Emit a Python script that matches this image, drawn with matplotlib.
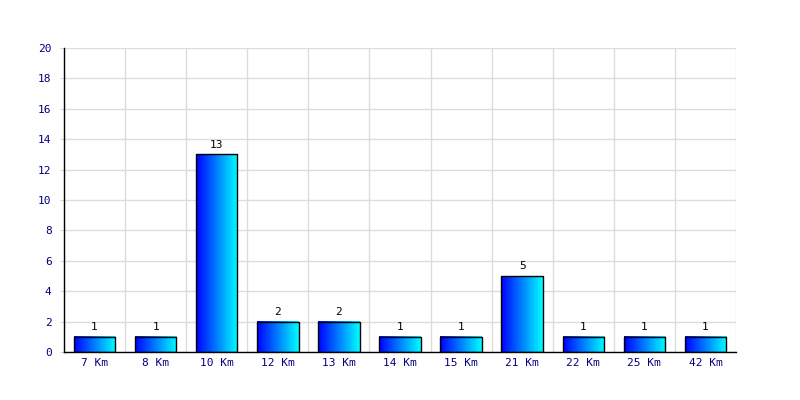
import numpy as np
import matplotlib
matplotlib.use("Agg")
from matplotlib import pyplot as plt

# data  -----------------------------------------------------------------
categories = ['7 Km', '8 Km', '10 Km', '12 Km', '13 Km', '14 Km', '15 Km',
              '21 Km', '22 Km', '25 Km', '42 Km']
counts = [1, 1, 13, 2, 2, 1, 1, 5, 1, 1, 1]

# figure  ---------------------------------------------------------------
fig = plt.figure(figsize=(8, 4), dpi=100)
ax = fig.add_axes([0.08, 0.12, 0.84, 0.76])

x = np.arange(len(categories))
bars = ax.bar(x, counts, width=0.68, color='none', edgecolor='black',
              linewidth=1.0, zorder=3)

# blue -> cyan horizontal gradient inside every bar
grad = np.linspace(0, 1, 256).reshape(1, -1)
cmap = matplotlib.colors.LinearSegmentedColormap.from_list(
    'bc', [(0, 0, 1), (0, 1, 1)])
for b in bars:
    x0, w, h = b.get_x(), b.get_width(), b.get_height()
    ax.imshow(grad, cmap=cmap, aspect='auto', extent=(x0, x0 + w, 0, h),
              zorder=2, interpolation='bilinear')

for xi, v in zip(x, counts):
    ax.text(xi, v + 0.3, str(v), ha='center', va='bottom',
            fontsize=8, family='DejaVu Sans Mono', color='black')

ax.set_xlim(-0.5, len(categories) - 0.5)
ax.set_ylim(0, 20)
ax.set_yticks(range(0, 21, 2))
ax.set_xticks(x)
ax.set_xticklabels(categories)
ax.set_xticks(np.arange(-0.5, len(categories)), minor=True)

for lab in ax.get_xticklabels() + ax.get_yticklabels():
    lab.set_family('DejaVu Sans Mono')
    lab.set_fontsize(8)
    lab.set_color('#000080')

ax.tick_params(axis='x', which='both', length=0, pad=4)
ax.tick_params(axis='y', length=3, pad=6, color='#d8d8d8')
ax.grid(axis='y', color='#dcdcdc', linewidth=1, zorder=0)
ax.grid(axis='x', which='minor', color='#dcdcdc', linewidth=1, zorder=0)

ax.spines['top'].set_visible(False)
ax.spines['right'].set_visible(False)
for s in ('left', 'bottom'):
    ax.spines[s].set_color('black')
    ax.spines[s].set_linewidth(1)
    ax.spines[s].set_zorder(4)

fig.savefig('out.png', dpi=100)
